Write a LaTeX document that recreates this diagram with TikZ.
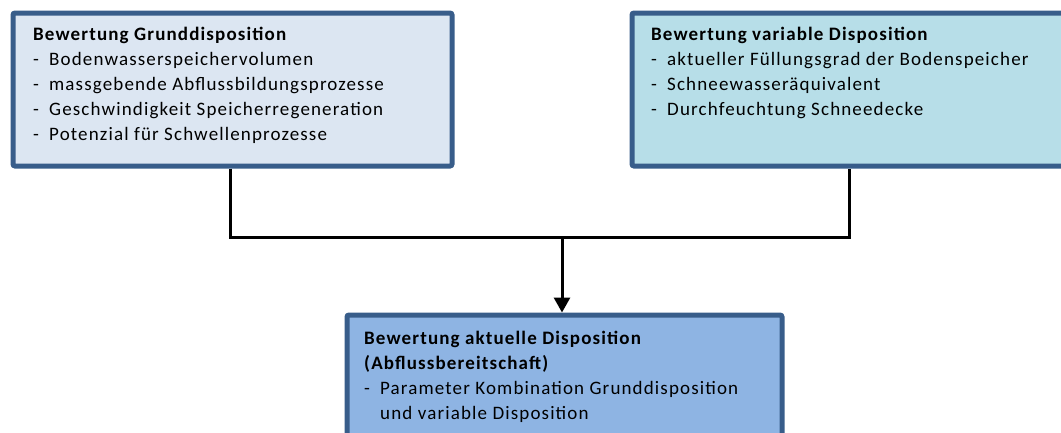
\documentclass[tikz,border=0pt]{standalone}
\usepackage{fontspec}
\setmainfont{Carlito}[LetterSpace=6]
\usetikzlibrary{arrows.meta}
\definecolor{bordercol}{HTML}{385D8A}
\definecolor{fillA}{HTML}{DCE6F2}
\definecolor{fillB}{HTML}{B7DEE8}
\definecolor{fillC}{HTML}{8EB4E3}
\tikzset{
  box/.style={draw=bordercol, line width=5pt, rounded corners=2pt, rectangle, anchor=north west, inner sep=0pt},
  txt/.style={anchor=north west, inner sep=0pt, align=left, font=\fontsize{19pt}{25pt}\selectfont},
  conn/.style={draw=black, line width=3pt},
}
\newcommand{\itm}[1]{\makebox[16pt][l]{-}#1}
\begin{document}
\begin{tikzpicture}[x=1pt,y=-1pt]
\useasboundingbox (0,0) rectangle (1061,432);
\clip (0,0) rectangle (1061,432);
\node[box, fill=fillA, minimum width=439pt, minimum height=153pt] (b1) at (10.5,10.5) {};
\node[box, fill=fillB, minimum width=439pt, minimum height=153pt] (b2) at (629.5,10.5) {};
\node[box, fill=fillC, minimum width=435pt, minimum height=160pt] (b3) at (344.5,312.5) {};
\node[txt] (t1) at (33,27) {\textbf{Bewertung Grunddisposition}\\
\itm{Bodenwasserspeichervolumen}\\
\itm{massgebende Abflussbildungsprozesse}\\
\itm{Geschwindigkeit Speicherregeneration}\\
\itm{Potenzial für Schwellenprozesse}};
\node[txt] (t2) at (651,27) {\textbf{Bewertung variable Disposition}\\
\itm{aktueller Füllungsgrad der Bodenspeicher}\\
\itm{Schneewasseräquivalent}\\
\itm{Durchfeuchtung Schneedecke}};
\node[txt] (t3) at (364,331) {\textbf{Bewertung aktuelle Disposition}\\
\textbf{(Abflussbereitschaft)}\\
\itm{Parameter Kombination Grunddisposition}\\
\hspace*{16pt}und variable Disposition};
\coordinate (jl) at (230,237);
\coordinate (jr) at (849,237);
\coordinate (jm) at (562,237);
\draw[conn] (jl |- b1.south) -- (jl) -- (jr) -- (jr |- b2.south);
\draw[conn, -{Triangle[width=16pt,length=15pt]}] (jm) -- (jm |- b3.north);
\end{tikzpicture}
\end{document}
